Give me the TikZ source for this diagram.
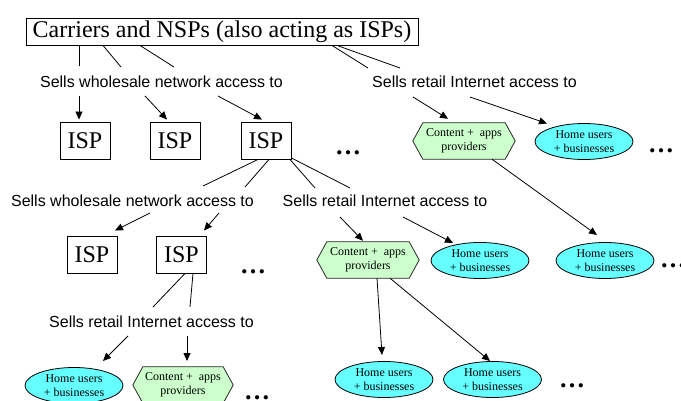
\documentclass[tikz,border=0pt]{standalone}
\usepackage{fontspec}
\setmainfont{Liberation Serif}
\newfontfamily\labelfont{Liberation Sans}
\usetikzlibrary{arrows.meta,shapes.geometric,backgrounds}
\definecolor{usercyan}{HTML}{66FFFF}
\definecolor{contentgreen}{HTML}{CCFFCC}

\tikzset{
  link/.style={line width=0.8pt},
  arr/.style={link, -{Triangle[length=8pt,width=7pt]}},
  titlebox/.style={draw, line width=0.9pt, fill=white, minimum width=392pt,
    minimum height=27pt, inner sep=0pt, font=\fontsize{24}{28}\selectfont},
  ispbox/.style={draw, line width=0.9pt, minimum width=50pt, minimum height=37pt,
    inner sep=0pt, font=\fontsize{24}{28}\selectfont},
  relabel/.style={anchor=base, inner sep=0pt, font=\labelfont\fontsize{16}{19}\selectfont},
  users/.style={ellipse, draw, line width=0.8pt, fill=usercyan, minimum width=98pt,
    minimum height=36pt, inner sep=0pt, align=center, font=\fontsize{12}{14}\selectfont},
  content/.style={rectangle, minimum width=102pt, minimum height=36pt, inner sep=0pt,
    align=center, font=\fontsize{12}{14}\selectfont},
  hexline/.style={draw=black!85, fill=contentgreen, line width=0.8pt},
  more/.style={anchor=base, inner sep=0pt, font=\bfseries\fontsize{26}{30}\selectfont},
}

% green hexagon drawn behind a content node
\newcommand\hexframe[1]{%
  \begin{scope}[on background layer]
    \filldraw[hexline] (#1.west) -- ([xshift=10pt]#1.north west) -- ([xshift=-10pt]#1.north east)
      -- (#1.east) -- ([xshift=-10pt]#1.south east) -- ([xshift=10pt]#1.south west) -- cycle;
  \end{scope}}

\begin{document}
\begin{tikzpicture}[x=1pt,y=-1pt]
\useasboundingbox (0,0) rectangle (681,401);

% --- nodes ---
\node[titlebox] (top) at (222,31.5) {Carriers and NSPs (also acting as ISPs)};

\node[relabel] (w1) at (161.5,88) {Sells wholesale network access to};
\node[relabel] (r1) at (474.5,88) {Sells retail Internet access to};

\node[ispbox] (isp1) at (85,140.5) {ISP};
\node[ispbox] (isp2) at (175,140.5) {ISP};
\node[ispbox] (isp3) at (266,140.5) {ISP};
\node[more] (d2) at (348,155) {…};

\node[content] (hex1) at (464,141) {Content +\ \ apps\\providers};
\node[users] (e1) at (584,141.5) {Home users\\+ businesses};
\node[more] (d1) at (661,153) {…};

\node[relabel] (w2) at (132.5,207) {Sells wholesale network access to};
\node[relabel] (r2) at (385,207) {Sells retail Internet access to};

\node[ispbox] (isp4) at (92,254.5) {ISP};
\node[ispbox] (isp5) at (181.5,254.5) {ISP};
\node[more] (d4) at (253,274) {…};

\node[content] (hex2) at (368,260) {Content +\ \ apps\\providers};
\node[users] (e3) at (480,260.5) {Home users\\+ businesses};
\node[users] (e2) at (605,260.5) {Home users\\+ businesses};
\node[more] (d3) at (673,268) {…};

\node[relabel] (r3) at (151.5,327) {Sells retail Internet access to};

\node[users] (e6) at (74,385.5) {Home users\\+ businesses};
\node[content, minimum width=100pt] (hex3) at (183,385) {Content +\ \ apps\\providers};
\node[more] (d6) at (257,399) {…};

\node[users] (e4) at (384,379.5) {Home users\\+ businesses};
\node[users] (e5) at (492.5,379.5) {Home users\\+ businesses};
\node[more] (d5) at (572,387) {…};

\hexframe{hex1}
\hexframe{hex2}
\hexframe{hex3}

% --- carriers and NSPs ---
\draw[link] ([xshift=-143pt]top.south) -- ([xshift=-82.5pt,yshift=22pt]w1.base);
\draw[link] ([xshift=-119pt]top.south) -- ([xshift=-40.5pt,yshift=21pt]w1.base);
\draw[link] ([xshift=-82pt]top.south) -- ([xshift=12.5pt,yshift=21pt]w1.base);
\draw[link] ([xshift=110pt]top.south) -- ([xshift=-106.5pt,yshift=20pt]r1.base);
\draw[link] ([xshift=115pt]top.south) -- ([xshift=-74.5pt,yshift=20pt]r1.base);

\draw[arr] ([xshift=-82.5pt,yshift=-8pt]w1.base) -- ([xshift=-6pt,yshift=2pt]isp1.north);
\draw[arr] ([xshift=-16.5pt,yshift=-8pt]w1.base) -- ([xshift=-8pt,yshift=2pt]isp2.north);
\draw[arr] ([xshift=56.5pt,yshift=-8pt]w1.base) -- ([xshift=-4pt,yshift=2pt]isp3.north);
\draw[arr] ([xshift=-61.5pt,yshift=-9pt]r1.base) -- ([xshift=-16pt,yshift=4pt]hex1.north);
\draw[arr] ([xshift=-4.5pt,yshift=-9pt]r1.base) -- ([xshift=-37pt,yshift=18pt]e1.center);

\draw[arr] ([xshift=28pt]hex1.south) -- ([xshift=-8pt,yshift=25.5pt]e2.center);

% --- second-tier ISP ---
\draw[link] ([xshift=-8pt]isp3.south) -- ([xshift=70.5pt,yshift=21pt]w2.base);
\draw[link] ([xshift=3pt]isp3.south) -- ([xshift=112.5pt,yshift=20pt]w2.base);
\draw[link] ([xshift=24pt]isp3.south) -- ([xshift=-70pt,yshift=19pt]r2.base);
\draw[link] ([yshift=1.5pt]isp3.south east) -- ([xshift=-35pt,yshift=19pt]r2.base);

\draw[arr] ([xshift=17.5pt,yshift=-6pt]w2.base) -- ([xshift=23pt,yshift=5pt]isp4.north);
\draw[arr] ([xshift=86.5pt,yshift=-6pt]w2.base) -- ([xshift=22.5pt,yshift=5pt]isp5.north);
\draw[arr] ([xshift=-45pt,yshift=-10pt]r2.base) -- ([xshift=-5pt,yshift=1pt]hex2.north);
\draw[arr] ([xshift=18pt,yshift=-10pt]r2.base) -- ([xshift=-27pt,yshift=17.5pt]e3.center);

\draw[arr] ([xshift=9pt]hex2.south) -- ([xshift=-2pt,yshift=24.5pt]e4.center);
\draw[arr] ([xshift=22pt]hex2.south) -- ([xshift=-2.5pt,yshift=18.5pt]e5.center);

% --- third-tier ISP ---
\draw[link] ([xshift=3.5pt]isp5.south) -- ([xshift=1.5pt,yshift=20pt]r3.base);
\draw[link] ([xshift=11.5pt]isp5.south) -- ([xshift=38.5pt,yshift=20pt]r3.base);

\draw[arr] ([xshift=-23.5pt,yshift=-9pt]r3.base) -- ([xshift=29pt,yshift=24.5pt]e6.center);
\draw[arr] ([xshift=35.5pt,yshift=-9pt]r3.base) -- ([xshift=4pt,yshift=24pt]hex3.center);
\end{tikzpicture}
\end{document}
